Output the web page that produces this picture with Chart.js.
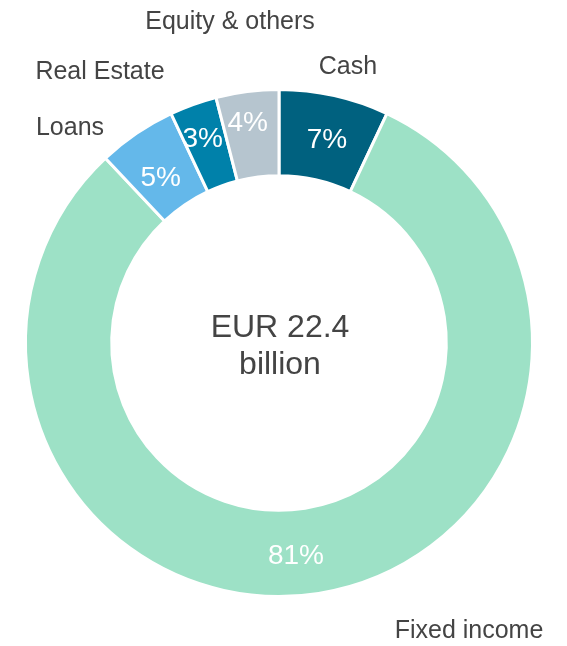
<!DOCTYPE html>
<html>
<head>
<meta charset="utf-8">
<script src="https://cdn.jsdelivr.net/npm/chart.js@4/dist/chart.umd.min.js"></script>
<style>
  html, body { margin: 0; padding: 0; background: #fff; }
  #wrap { width: 567px; height: 646px; position: relative; }
</style>
</head>
<body>
<div id="wrap"><canvas id="donutChart"></canvas></div>
<script>
const categories = ["Cash", "Fixed income", "Loans", "Real Estate", "Equity & others"];
const shares = [7, 81, 5, 3, 4];
const colors = ["#00617f", "#9de1c6", "#64b8ea", "#0081aa", "#b6c5cf"];
const centerLines = ["EUR 22.4", "billion"];

// where each category name sits, relative to the chart centre (dx, dy)
const nameOffsets = [[69, -276], [190, 288], [-209, -215], [-179, -271], [-49, -321]];
// small nudges of the percentage labels away from the arc middle
const pctNudges = [[2, 3], [-16, 5], [0, 9], [-5, -6], [-5, -11]];

const labelPlugin = {
  id: "donutLabels",
  afterDatasetsDraw(chart) {
    const ctx = chart.ctx;
    const arcs = chart.getDatasetMeta(0).data;
    ctx.save();
    ctx.textAlign = "center";
    ctx.textBaseline = "middle";
    arcs.forEach((arc, i) => {
      const p = arc.tooltipPosition();
      ctx.fillStyle = "#ffffff";
      ctx.font = "28px 'Liberation Sans', Arial, sans-serif";
      ctx.fillText(shares[i] + "%", p.x + pctNudges[i][0], p.y + pctNudges[i][1]);
      ctx.fillStyle = "#444444";
      ctx.font = "25px 'Liberation Sans', Arial, sans-serif";
      ctx.fillText(categories[i], arc.x + nameOffsets[i][0], arc.y + nameOffsets[i][1]);
    });
    const cx = arcs[0].x, cy = arcs[0].y;
    ctx.fillStyle = "#444444";
    ctx.font = "32px 'Liberation Sans', Arial, sans-serif";
    ctx.fillText(centerLines[0], cx + 1, cy - 15);
    ctx.fillText(centerLines[1], cx + 1, cy + 22);
    ctx.restore();
  }
};

new Chart(document.getElementById("donutChart").getContext("2d"), {
  type: "doughnut",
  data: {
    labels: categories,
    datasets: [{
      data: shares,
      backgroundColor: colors,
      borderColor: "#ffffff",
      borderWidth: 3,
      hoverOffset: 0
    }]
  },
  options: {
    responsive: true,
    maintainAspectRatio: false,
    animation: false,
    cutout: "66%",
    layout: { padding: { left: 24, right: 33, top: 88, bottom: 48 } },
    plugins: {
      legend: { display: false },
      tooltip: { enabled: false }
    }
  },
  plugins: [labelPlugin]
});
</script>
</body>
</html>
